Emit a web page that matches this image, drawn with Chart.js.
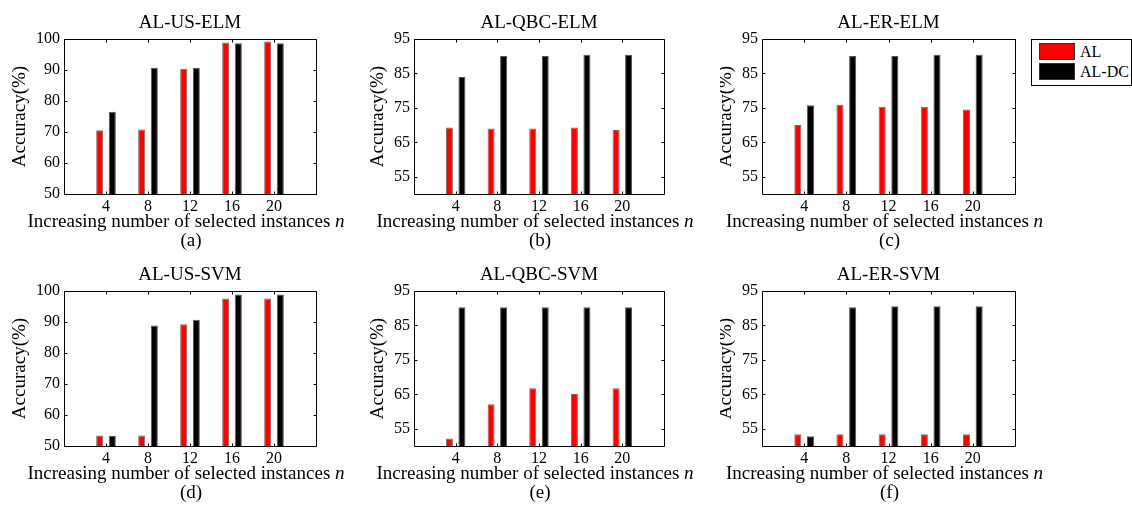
<!DOCTYPE html>
<html>
<head>
<meta charset="utf-8">
<script src="https://cdn.jsdelivr.net/npm/chart.js@4/dist/chart.umd.min.js"></script>
<style>
	body { margin: 0; background: #fff; width: 1132px; height: 511px; overflow: hidden; position: relative; font-family: "Liberation Serif", "Times New Roman", serif; }
	canvas { position: absolute; }
	#legend { position: absolute; z-index: 2; left: 1031px; top: 39px; width: 99px; height: 45px; border: 1px solid #000; background: #fff; }
	#legend .item { position: absolute; left: 7px; height: 17px; font-size: 16px; line-height: 17px; white-space: nowrap; }
	#legend .sw { display: inline-block; width: 34px; height: 15px; border: 1px solid #333; vertical-align: top; margin-right: 5px; }
</style>
</head>
<body>
<div id="legend"></div>
<script>
// x categories: number of selected instances n
var nValues = [4, 8, 12, 16, 20];
var seriesNames = ['AL', 'AL-DC'];
var panelTitles = ['AL-US-ELM', 'AL-QBC-ELM', 'AL-ER-ELM', 'AL-US-SVM', 'AL-QBC-SVM', 'AL-ER-SVM'];
var panelTags = ['(a)', '(b)', '(c)', '(d)', '(e)', '(f)'];

// accuracy (%)
var alUsElm = [70.6, 70.8, 90.4, 98.9, 99.2];
var dcUsElm = [76.5, 90.7, 90.7, 98.6, 98.6];
var alQbcElm = [69.3, 69.0, 69.0, 69.3, 68.6];
var dcQbcElm = [84.0, 90.1, 90.1, 90.4, 90.4];
var alErElm = [70.0, 75.9, 75.3, 75.3, 74.5];
var dcErElm = [75.8, 90.1, 90.1, 90.4, 90.4];
var alUsSvm = [53.4, 53.4, 89.3, 97.6, 97.6];
var dcUsSvm = [53.2, 88.9, 90.7, 98.9, 98.9];
var alQbcSvm = [52.2, 62.1, 66.8, 65.1, 66.8];
var dcQbcSvm = [90.3, 90.3, 90.3, 90.3, 90.3];
var alErSvm = [53.4, 53.4, 53.4, 53.4, 53.4];
var dcErSvm = [52.8, 90.3, 90.6, 90.6, 90.6];

// y tick labels
var usTicks = [50, 60, 70, 80, 90, 100];
var otherTicks = [55, 65, 75, 85, 95];

var seriesColors = ['#ff0000', '#000000'];
var seriesEdges = ['rgba(40,0,0,0.6)', '#555555'];
var fontFamily = '"Liberation Serif", "Times New Roman", serif';
Chart.defaults.font.family = fontFamily;
Chart.defaults.color = '#000';

// layout, page pixels
var colX = [0, 370, 720], colW = [370, 350, 412];
var plotL = [64, 414, 762], plotR = [316, 664, 1015];
var rowY = [0, 255], rowH = [255, 256];
var plotT = [39, 291], plotB = [194, 446];

var framePlugin = {
	id: 'frame',
	afterDraw: function(chart) {
		var o = chart.options.plugins.frame;
		var ctx = chart.ctx, a = chart.chartArea;
		var xs = chart.scales.x, ys = chart.scales.y;
		var l = Math.round(a.left) + 0.5, r = Math.round(a.right) + 0.5;
		var t = Math.round(a.top) + 0.5, b = Math.round(a.bottom) + 0.5;
		ctx.save();
		ctx.strokeStyle = '#000';
		ctx.lineWidth = 1;
		ctx.beginPath();
		ctx.rect(l, t, r - l, b - t);
		xs.ticks.forEach(function(tk) {
			var x = Math.round(xs.getPixelForValue(tk.value)) + 0.5;
			ctx.moveTo(x, b); ctx.lineTo(x, b - 3);
			ctx.moveTo(x, t); ctx.lineTo(x, t + 3);
		});
		ys.ticks.forEach(function(tk) {
			var y = Math.round(ys.getPixelForValue(tk.value)) + 0.5;
			ctx.moveTo(l, y); ctx.lineTo(l + 3, y);
			ctx.moveTo(r, y); ctx.lineTo(r - 3, y);
		});
		ctx.stroke();

		var cx = (a.left + a.right) / 2;
		ctx.fillStyle = '#000';
		ctx.textBaseline = 'alphabetic';
		ctx.textAlign = 'center';
		ctx.font = '19px ' + fontFamily;
		ctx.fillText(o.title, cx, a.top - 11);
		ctx.fillText(o.tag, cx + 1, a.bottom + 52);

		// x label, italic n at the end
		var main = 'Increasing number of selected instances ';
		var w1 = ctx.measureText(main).width;
		ctx.font = 'italic 19px ' + fontFamily;
		var w2 = ctx.measureText('n').width;
		var x0 = cx - 4 - (w1 + w2) / 2;
		ctx.textAlign = 'left';
		ctx.fillText('n', x0 + w1, a.bottom + 33);
		ctx.font = '19px ' + fontFamily;
		ctx.fillText(main, x0, a.bottom + 33);

		// y label
		ctx.font = '16px ' + fontFamily;
		var tw = 0;
		ys.ticks.forEach(function(tk) {
			tw = Math.max(tw, ctx.measureText(String(tk.value)).width);
		});
		ctx.font = '19px ' + fontFamily;
		ctx.translate(a.left - 4 - tw - 16, (a.top + a.bottom) / 2);
		ctx.rotate(-Math.PI / 2);
		ctx.textAlign = 'center';
		ctx.textBaseline = 'middle';
		ctx.fillText('Accuracy(%)', 0, 0);
		ctx.restore();
	}
};

function toPoints(values) {
	return nValues.map(function(n, i) { return {x: n, y: values[i]}; });
}

function makePanel(idx, alValues, dcValues, yTicks, yMax) {
	var col = idx % 3, row = Math.floor(idx / 3);
	var canvas = document.createElement('canvas');
	canvas.width = colW[col];
	canvas.height = rowH[row];
	canvas.style.left = colX[col] + 'px';
	canvas.style.top = rowY[row] + 'px';
	document.body.appendChild(canvas);

	var yWidth = plotL[col] - colX[col];
	var xHeight = rowY[row] + rowH[row] - plotB[row];
	var series = [alValues, dcValues];

	return new Chart(canvas, {
		type: 'bar',
		data: {
			datasets: series.map(function(vals, s) {
				return {
					label: seriesNames[s],
					data: toPoints(vals),
					backgroundColor: seriesColors[s],
					borderColor: seriesEdges[s],
					borderWidth: 1,
					categoryPercentage: 0.6,
					barPercentage: 0.56
				};
			})
		},
		options: {
			responsive: false,
			animation: false,
			devicePixelRatio: 1,
			layout: {
				padding: {
					left: 0,
					top: plotT[row] - rowY[row],
					right: colX[col] + colW[col] - plotR[col],
					bottom: 0
				}
			},
			plugins: {
				legend: {display: false},
				tooltip: {enabled: false},
				frame: {title: panelTitles[idx], tag: panelTags[idx]}
			},
			scales: {
				x: {
					type: 'linear',
					min: 0,
					max: 24,
					offset: false,
					grid: {display: false, drawTicks: false, offset: false},
					border: {display: false},
					ticks: {color: '#000', font: {size: 16, family: fontFamily}, padding: 3, maxRotation: 0},
					afterBuildTicks: function(sc) {
						sc.ticks = nValues.map(function(v) { return {value: v}; });
					},
					afterFit: function(sc) { sc.height = xHeight; }
				},
				y: {
					min: 50,
					max: yMax,
					grid: {display: false, drawTicks: false},
					border: {display: false},
					ticks: {color: '#000', font: {size: 16, family: fontFamily}, padding: 4},
					afterBuildTicks: function(sc) {
						sc.ticks = yTicks.map(function(v) { return {value: v}; });
					},
					afterFit: function(sc) { sc.width = yWidth; }
				}
			}
		},
		plugins: [framePlugin]
	});
}

makePanel(0, alUsElm, dcUsElm, usTicks, 100);
makePanel(1, alQbcElm, dcQbcElm, otherTicks, 95);
makePanel(2, alErElm, dcErElm, otherTicks, 95);
makePanel(3, alUsSvm, dcUsSvm, usTicks, 100);
makePanel(4, alQbcSvm, dcQbcSvm, otherTicks, 95);
makePanel(5, alErSvm, dcErSvm, otherTicks, 95);

// legend
var legend = document.getElementById('legend');
seriesNames.forEach(function(name, s) {
	var item = document.createElement('div');
	item.className = 'item';
	item.style.top = (3 + s * 20) + 'px';
	var sw = document.createElement('span');
	sw.className = 'sw';
	sw.style.background = seriesColors[s];
	item.appendChild(sw);
	item.appendChild(document.createTextNode(name));
	legend.appendChild(item);
});
</script>
</body>
</html>
